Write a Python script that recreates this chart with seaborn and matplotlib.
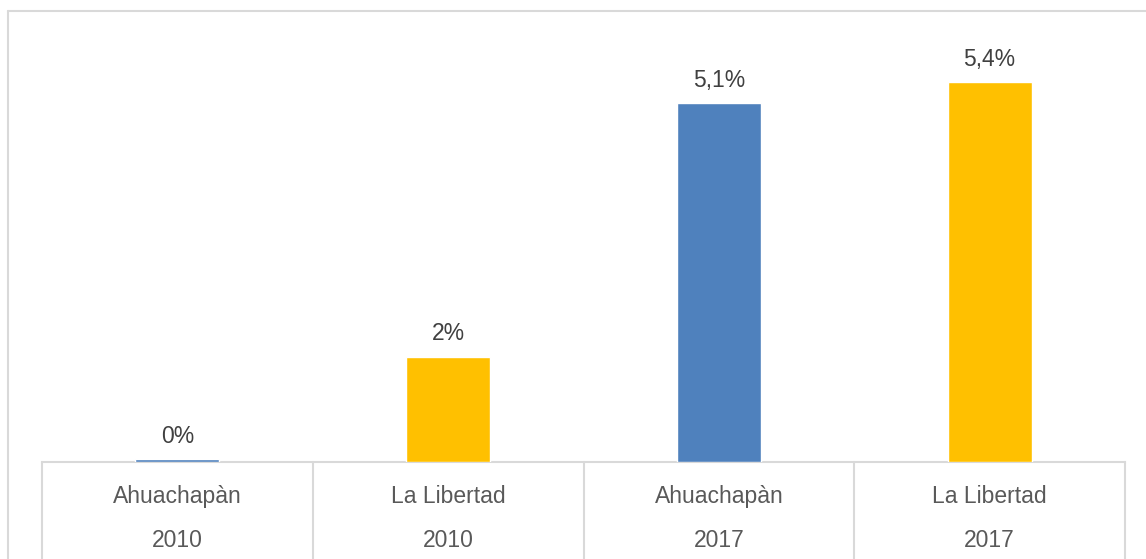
import matplotlib
matplotlib.use("Agg")
import matplotlib.pyplot as plt
from matplotlib.lines import Line2D
import seaborn as sns
import pandas as pd

# ---------- data ----------
regions = ["Ahuachapàn", "La Libertad", "Ahuachapàn", "La Libertad"]
years = ["2010", "2010", "2017", "2017"]
values = [0.04, 1.5, 5.1, 5.4]
value_labels = ["0%", "2%", "5,1%", "5,4%"]
palette = {"Ahuachapàn": "#4F81BD", "La Libertad": "#FFC000"}

df = pd.DataFrame({
    "cat": [f"{r} {y}" for r, y in zip(regions, years)],
    "region": regions,
    "value": values,
})

sns.set_theme(style="white")
plt.rcParams["font.family"] = ["Liberation Sans", "DejaVu Sans"]

W, H = 1146, 559
fig = plt.figure(figsize=(W / 100, H / 100), dpi=100)
ax = fig.add_axes([42 / W, 97 / H, (1125 - 42) / W, (462 - 40) / H])

sns.barplot(data=df, x="cat", y="value", hue="region", palette=palette,
            dodge=False, width=0.31, legend=False, ax=ax, saturation=1)

ax.set_ylim(0, 6)
ax.set_xlim(-0.5, len(df) - 0.5)
ax.set_xlabel("")
ax.set_ylabel("")
ax.set_xticks([])
ax.set_yticks([])
for s in ["top", "left", "right"]:
    ax.spines[s].set_visible(False)
ax.spines["bottom"].set_color("#D9D9D9")
ax.spines["bottom"].set_linewidth(1.5)
ax.spines["bottom"].set_zorder(0.5)

# value labels
bars = [p for c in ax.containers for p in c]
bars.sort(key=lambda p: p.get_x())
for p, lab in zip(bars, value_labels):
    p.set_zorder(3)
    ax.annotate(lab, (p.get_x() + p.get_width() / 2, p.get_height()),
                xytext=(0, 8), textcoords="offset points",
                ha="center", va="bottom", fontsize=16.5, color="#404040")

# category table below the axis
xt = ax.get_xaxis_transform()
for i in range(len(df) + 1):
    ax.add_line(Line2D([i - 0.5, i - 0.5], [0, -0.25], transform=xt,
                       color="#D9D9D9", lw=1.5, clip_on=False))
for i, (r, y) in enumerate(zip(regions, years)):
    ax.text(i, -0.081, r, transform=xt, ha="center", va="center",
            fontsize=16.5, color="#595959")
    ax.text(i, -0.185, y, transform=xt, ha="center", va="center",
            fontsize=16.5, color="#595959")

# outer chart border (partially cropped)
fig.add_artist(Line2D([8 / W, 8 / W], [0, 1 - 11 / H], transform=fig.transFigure,
                      color="#D9D9D9", lw=1.5))
fig.add_artist(Line2D([8 / W, 1], [1 - 11 / H, 1 - 11 / H], transform=fig.transFigure,
                      color="#D9D9D9", lw=1.5))

fig.savefig("out.png", dpi=100)
